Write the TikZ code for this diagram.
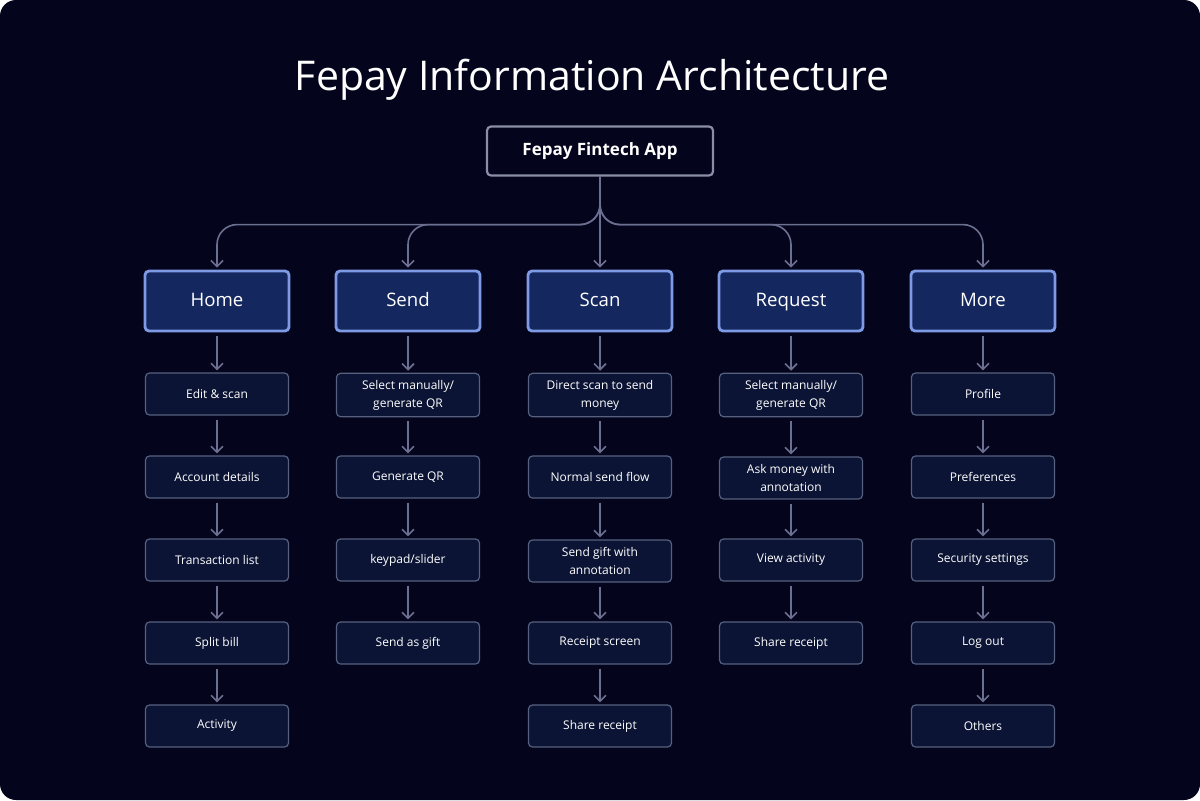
\documentclass[tikz,border=0pt]{standalone}
\usepackage{fontspec}
\setmainfont{Open Sans}
\usetikzlibrary{arrows.meta}
\definecolor{bg}{HTML}{04041C}
\definecolor{hfill}{HTML}{14275F}
\definecolor{hline}{HTML}{7F9AE4}
\definecolor{cfill}{HTML}{0B1434}
\definecolor{cline}{HTML}{56607F}
\definecolor{rline}{HTML}{8A8EA6}
\definecolor{conn}{HTML}{6C7090}
\begin{document}
\begin{tikzpicture}[x=0.5pt,y=-0.5pt,
  head/.style={draw=hline,fill=hfill,line width=1.4pt,rounded corners=2pt,minimum width=72pt,minimum height=30pt,text=white,text height=7pt,text depth=2pt,font=\fontsize{9.3}{11}\selectfont},
  child/.style={draw=cline,fill=cfill,line width=0.6pt,rounded corners=2pt,minimum width=71.5pt,minimum height=21pt,text=white,align=center,font=\fontsize{6}{9}\selectfont},
  root/.style={draw=rline,fill=bg,line width=1.1pt,rounded corners=2pt,minimum width=113pt,minimum height=24.5pt,text=white,font=\fontsize{8.5}{10}\selectfont\bfseries},
  conn/.style={draw=conn,line width=0.8pt,-{Straight Barb[length=3pt,width=6pt]},shorten >=1pt}]
\useasboundingbox (0,0) rectangle (1200,800);
\fill[white] (0,0) rectangle (1200,800);
\fill[bg,rounded corners=8pt] (0,0) rectangle (1200,800);
\node[text=white,font=\fontsize{20.5}{24}\selectfont] (title) at (592,80) {Fepay Information Architecture};
\node[root] (root) at (600,151) {Fepay Fintech App};
\foreach \n/\x/\t in {home/217/Home,send/408/Send,scan/600/Scan,req/791/Request,more/983/More}
  \node[head] (\n) at (\x,301) {\t};
\foreach \n in {home,send,req,more}
  \draw[conn,rounded corners=10pt] (root.south) -- ([yshift=-24pt]root.south) -| (\n.north);
\draw[conn] (root.south) -- (scan.north);
% children
\node[child] (h1) at (217,394) {Edit \& scan};
\node[child] (h2) at (217,477) {Account details};
\node[child] (h3) at (217,560) {Transaction list};
\node[child] (h4) at (217,643) {Split bill};
\node[child] (h5) at (217,726) {Activity};
\node[child] (s1) at (408,395) {Select manually/\\generate QR};
\node[child] (s2) at (408,477) {Generate QR};
\node[child] (s3) at (408,560) {keypad/slider};
\node[child] (s4) at (408,643) {Send as gift};
\node[child] (c1) at (600,395) {Direct scan to send\\money};
\node[child] (c2) at (600,477) {Normal send flow};
\node[child] (c3) at (600,561) {Send gift with\\annotation};
\node[child] (c4) at (600,643) {Receipt screen};
\node[child] (c5) at (600,726) {Share receipt};
\node[child] (r1) at (791,395) {Select manually/\\generate QR};
\node[child] (r2) at (791,478) {Ask money with\\annotation};
\node[child] (r3) at (791,560) {View activity};
\node[child] (r4) at (791,643) {Share receipt};
\node[child] (m1) at (983,394) {Profile};
\node[child] (m2) at (983,477) {Preferences};
\node[child] (m3) at (983,560) {Security settings};
\node[child] (m4) at (983,643) {Log out};
\node[child] (m5) at (983,726) {Others};
\foreach \a/\b in {home/h1,h1/h2,h2/h3,h3/h4,h4/h5,send/s1,s1/s2,s2/s3,s3/s4,scan/c1,c1/c2,c2/c3,c3/c4,c4/c5,req/r1,r1/r2,r2/r3,r3/r4,more/m1,m1/m2,m2/m3,m3/m4,m4/m5}
  \draw[conn] ([yshift=-2pt]\a.south) -- (\b.north);
\end{tikzpicture}
\end{document}
